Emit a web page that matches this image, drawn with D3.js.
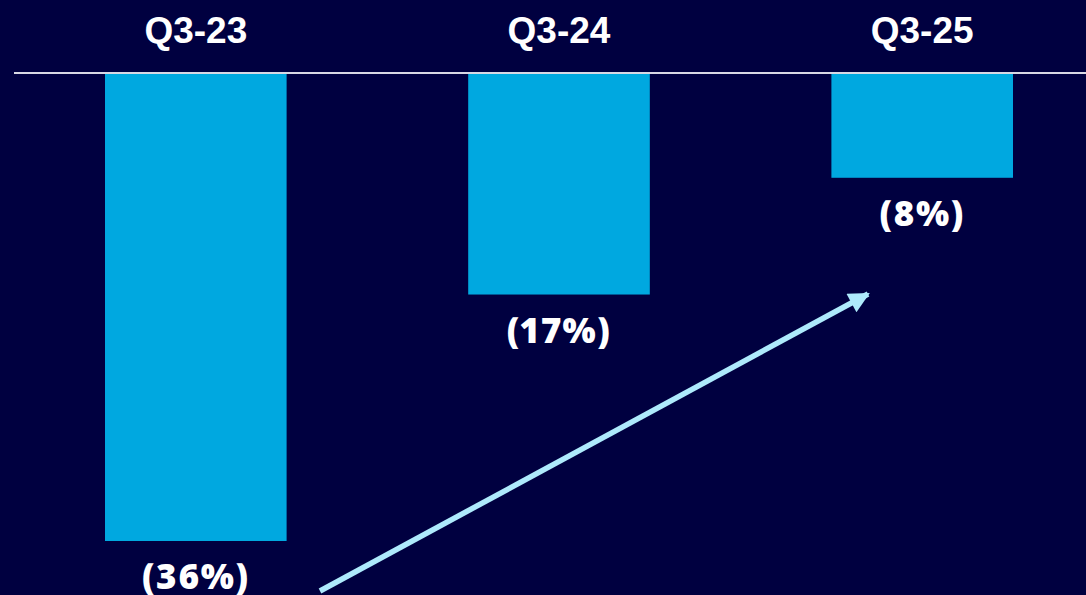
<!DOCTYPE html>
<html>
<head>
<meta charset="utf-8">
<script src="https://cdn.jsdelivr.net/npm/d3@7"></script>
<style>
  html, body { margin: 0; padding: 0; background: #000040; overflow: hidden; }
</style>
</head>
<body>
<script>
// DATA
// =============================================================================

const quarters = ["Q3-23", "Q3-24", "Q3-25"];
const values = [-36, -17, -8];
const valueLabels = ["(36%)", "(17%)", "(8%)"];

// CONFIG VARS
// =============================================================================

const width = 1086;
const height = 595;
const baseline = 74;

// SCALES
// =============================================================================

const xScale = d3.scaleBand()
    .domain(quarters)
    .range([105, 1013])
    .paddingInner(0.5)
    .paddingOuter(0);

const yScale = d3.scaleLinear()
    .domain([0, -36])
    .range([baseline, 541]);

// INITIALIZE THE SVG
// =============================================================================

const svg = d3.select("body")
    .append("svg")
    .attr("width", width)
    .attr("height", height);

svg.append("rect")
    .attr("width", width)
    .attr("height", height)
    .attr("fill", "#000040");

// bars
svg.selectAll("rect.bar")
    .data(values)
    .enter()
    .append("rect")
    .attr("class", "bar")
    .attr("x", (d, i) => xScale(quarters[i]))
    .attr("width", xScale.bandwidth())
    .attr("y", yScale(0))
    .attr("height", d => yScale(d) - yScale(0))
    .attr("fill", "#00a8e0");

// baseline
svg.append("line")
    .attr("x1", 14)
    .attr("x2", width)
    .attr("y1", baseline - 1)
    .attr("y2", baseline - 1)
    .attr("stroke", "#d8d8e4")
    .attr("stroke-width", 2);

// category labels on top
svg.selectAll("text.cat")
    .data(quarters)
    .enter()
    .append("text")
    .attr("class", "cat")
    .attr("x", d => xScale(d) + xScale.bandwidth() / 2)
    .attr("y", 43)
    .attr("text-anchor", "middle")
    .attr("fill", "#ffffff")
    .style("font-family", "'Liberation Sans', Arial, sans-serif")
    .style("font-weight", "bold")
    .style("font-size", "37px")
    .text(d => d);

// value labels under bars
svg.selectAll("text.val")
    .data(values)
    .enter()
    .append("text")
    .attr("class", "val")
    .attr("x", (d, i) => xScale(quarters[i]) + xScale.bandwidth() / 2)
    .attr("y", d => yScale(d) + 48)
    .attr("text-anchor", "middle")
    .attr("fill", "#ffffff")
    .style("font-family", "'Open Sans', sans-serif")
    .style("font-weight", "800")
    .style("font-size", "35px")
    .style("letter-spacing", "1.5px")
    .style("font-variant-numeric", "proportional-nums")
    .text((d, i) => valueLabels[i]);

// TREND ARROW
// =============================================================================

svg.append("defs")
    .append("marker")
    .attr("id", "head")
    .attr("viewBox", "0 0 10 10")
    .attr("refX", 9)
    .attr("refY", 5)
    .attr("markerWidth", 4.2)
    .attr("markerHeight", 3.8)
    .attr("markerUnits", "strokeWidth")
    .attr("orient", "auto")
    .append("path")
    .attr("d", "M0,0 L10,5 L0,10 Z")
    .attr("fill", "#aeeafc");

svg.append("line")
    .attr("x1", 320)
    .attr("y1", 591)
    .attr("x2", 868)
    .attr("y2", 294)
    .attr("stroke", "#aeeafc")
    .attr("stroke-width", 5.5)
    .attr("marker-end", "url(#head)");
</script>
</body>
</html>
